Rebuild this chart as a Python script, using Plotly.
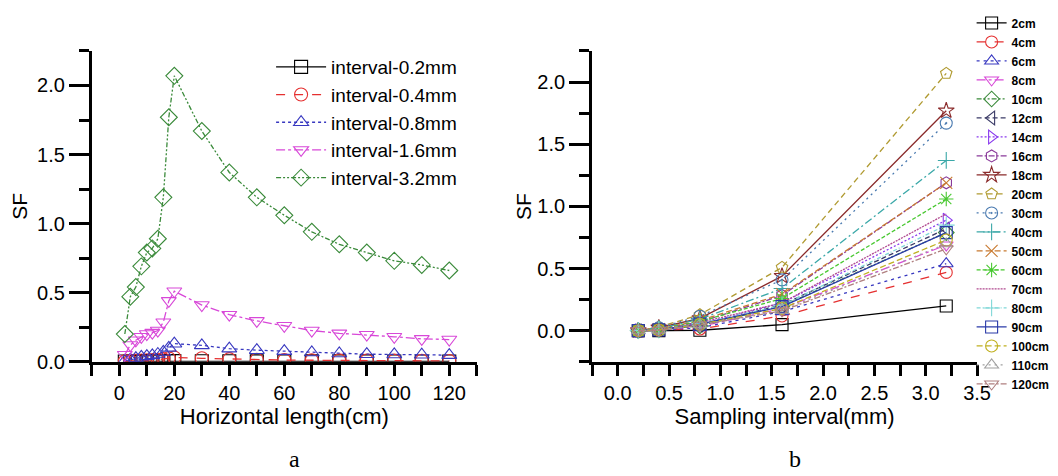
import plotly.graph_objects as go

# --- Data: SF by sampling interval (rows) and horizontal length (columns) ---
lengths = [2, 4, 6, 8, 10, 12, 14, 16, 18, 20, 30, 40, 50, 60, 70, 80, 90, 100, 110, 120]
intervals = [0.2, 0.4, 0.8, 1.6, 3.2]

sf_02 = [0.001, 0.001, 0.001, 0.002, 0.002, 0.002, 0.002, 0.003, 0.003, 0.004,
         0.003, 0.003, 0.002, 0.002, 0.002, 0.002, 0.002, 0.001, 0.001, 0.001]
sf_04 = [0.002, 0.004, 0.006, 0.008, 0.010, 0.012, 0.014, 0.018, 0.025, 0.030,
         0.024, 0.018, 0.014, 0.011, 0.010, 0.009, 0.008, 0.007, 0.006, 0.005]
sf_08 = [0.005, 0.015, 0.025, 0.035, 0.040, 0.045, 0.055, 0.070, 0.100, 0.130,
         0.118, 0.094, 0.083, 0.076, 0.066, 0.059, 0.054, 0.052, 0.050, 0.047]
sf_16 = [0.05, 0.12, 0.155, 0.18, 0.20, 0.21, 0.225, 0.285, 0.44, 0.51,
         0.41, 0.34, 0.295, 0.26, 0.225, 0.205, 0.195, 0.18, 0.165, 0.16]
sf_32 = [0.20, 0.47, 0.54, 0.69, 0.79, 0.82, 0.89, 1.19, 1.77, 2.07,
         1.67, 1.37, 1.19, 1.06, 0.94, 0.85, 0.79, 0.73, 0.70, 0.66]

sf_table = [sf_02, sf_04, sf_08, sf_16, sf_32]
interval_names = ["interval-0.2mm", "interval-0.4mm", "interval-0.8mm",
                  "interval-1.6mm", "interval-3.2mm"]
length_names = [f"{l}cm" for l in lengths]

# --- Styles ---
left_styles = [
    ("#000000", "solid", "square-open"),
    ("#E53030", "dash", "circle-open"),
    ("#3838C0", "3px,3px", "triangle-up-open"),
    ("#D848D8", "dashdot", "triangle-down-open"),
    ("#3A8A3A", "5px,2px,2px,2px,2px,2px", "diamond-open"),
]
right_styles = [
    ("#000000", "solid", "square-open"),
    ("#E53030", "dash", "circle-open"),
    ("#3838C0", "3px,4px", "triangle-up-open"),
    ("#D848D8", "dashdot", "triangle-down-open"),
    ("#3A8A3A", "5px,2px,2px,2px,2px,2px", "diamond-open"),
    ("#3A3A66", "5px,3px", "triangle-left-open"),
    ("#8A3AEE", "2px,2px", "triangle-right-open"),
    ("#8A3A9A", "6px,2px,2px,2px", "hexagon-open"),
    ("#8A2A2A", "solid", "star-open"),
    ("#B09A30", "6px,4px", "pentagon-open"),
    ("#4A7AB0", "2px,4px", "circle-open-dot"),
    ("#3AA8A8", "8px,3px,2px,3px", "cross-thin-open"),
    ("#C87A30", "6px,3px", "x-thin-open"),
    ("#48C830", "4px,2px", "asterisk-open"),
    ("#B04A90", "2px,1px", None),
    ("#80D8D8", "4px,2px,1px,2px", "cross-thin-open"),
    ("#2A3AA8", "solid", "square-open"),
    ("#C0B020", "6px,3px", "circle-open"),
    ("#A0A0A0", "2px,4px", "triangle-up-open"),
    ("#B08080", "6px,2px,2px,2px", "triangle-down-open"),
]

FONT = "Liberation Sans, Arial, sans-serif"
SERIF = "Liberation Serif, Times New Roman, serif"

fig = go.Figure()

# --- Panel a: SF vs horizontal length ---
for i, name in enumerate(interval_names):
    color, dash, symbol = left_styles[i]
    fig.add_trace(go.Scatter(
        x=lengths, y=sf_table[i], name=name, mode="lines+markers",
        line=dict(color=color, width=1.3, dash=dash),
        marker=dict(symbol=symbol, size=13, color=color, line=dict(width=1.1, color=color)),
        xaxis="x", yaxis="y", legend="legend"))

# --- Panel b: SF vs sampling interval ---
for j, name in enumerate(length_names):
    color, dash, symbol = right_styles[j]
    ys = [sf_table[i][j] for i in range(len(intervals))]
    if symbol is None:
        mode, marker = "lines", None
    else:
        mode = "lines+markers"
        marker = dict(symbol=symbol, size=12, color=color, line=dict(width=1.1, color=color))
    fig.add_trace(go.Scatter(
        x=intervals, y=ys, name=name, mode=mode,
        line=dict(color=color, width=1.3, dash=dash), marker=marker,
        xaxis="x2", yaxis="y2", legend="legend2"))

axis_common = dict(showline=True, linewidth=3, linecolor="black", showgrid=False,
                   zeroline=False, ticks="outside", tickwidth=3, tickcolor="black",
                   tickfont=dict(family=FONT, size=20, color="black"))

fig.update_layout(
    width=1058, height=476,
    margin=dict(l=0, r=0, t=0, b=0),
    paper_bgcolor="white", plot_bgcolor="white",
    font=dict(family=FONT, color="black"),
    xaxis=dict(axis_common, domain=[0.0803, 0.449], range=[-10, 130], tick0=0, dtick=20,
               ticklen=11, minor=dict(dtick=10, ticklen=11, tickwidth=3, ticks="outside",
                                      tickcolor="black"),
               anchor="y",
               title=dict(text="Horizontal length(cm)", font=dict(size=22), standoff=2)),
    yaxis=dict(axis_common, domain=[0.2395, 0.9076], range=[0, 2.25], tick0=0, dtick=0.5,
               tickformat=".1f", ticklen=20,
               minor=dict(dtick=0.25, ticklen=10, tickwidth=3, ticks="outside",
                          tickcolor="black"),
               anchor="x", title=dict(text="SF", font=dict(size=21), standoff=6)),
    xaxis2=dict(axis_common, domain=[0.5595, 0.9282], range=[-0.25, 3.5], tick0=0, dtick=0.5,
                tickformat=".1f", ticklen=11,
                minor=dict(dtick=0.25, ticklen=11, tickwidth=3, ticks="outside",
                           tickcolor="black"),
                anchor="y2",
                title=dict(text="Sampling interval(mm)", font=dict(size=22), standoff=2)),
    yaxis2=dict(axis_common, domain=[0.2388, 0.9076], range=[-0.25, 2.25], tick0=0, dtick=0.5,
                tickformat=".1f", ticklen=20,
                minor=dict(dtick=0.25, ticklen=10, tickwidth=3, ticks="outside",
                           tickcolor="black"),
                anchor="x2", title=dict(text="SF", font=dict(size=21), standoff=0)),
    legend=dict(x=0.252, y=0.914, xanchor="left", yanchor="top",
                bgcolor="rgba(0,0,0,0)", font=dict(family=FONT, size=19),
                itemwidth=50, tracegroupgap=0),
    legend2=dict(x=0.923, y=0.999, xanchor="left", yanchor="top",
                 bgcolor="rgba(0,0,0,0)", font=dict(family=FONT, size=12, weight="bold"),
                 itemwidth=30, tracegroupgap=0),
    annotations=[
        dict(text="a", x=290 / 1058, y=1 - 462 / 476, xref="paper", yref="paper",
             xanchor="center", yanchor="middle", showarrow=False,
             font=dict(family=SERIF, size=24)),
        dict(text="b", x=798 / 1058, y=1 - 462 / 476, xref="paper", yref="paper",
             xanchor="center", yanchor="middle", showarrow=False,
             font=dict(family=SERIF, size=24)),
    ],
)

fig.write_html("out.html")
